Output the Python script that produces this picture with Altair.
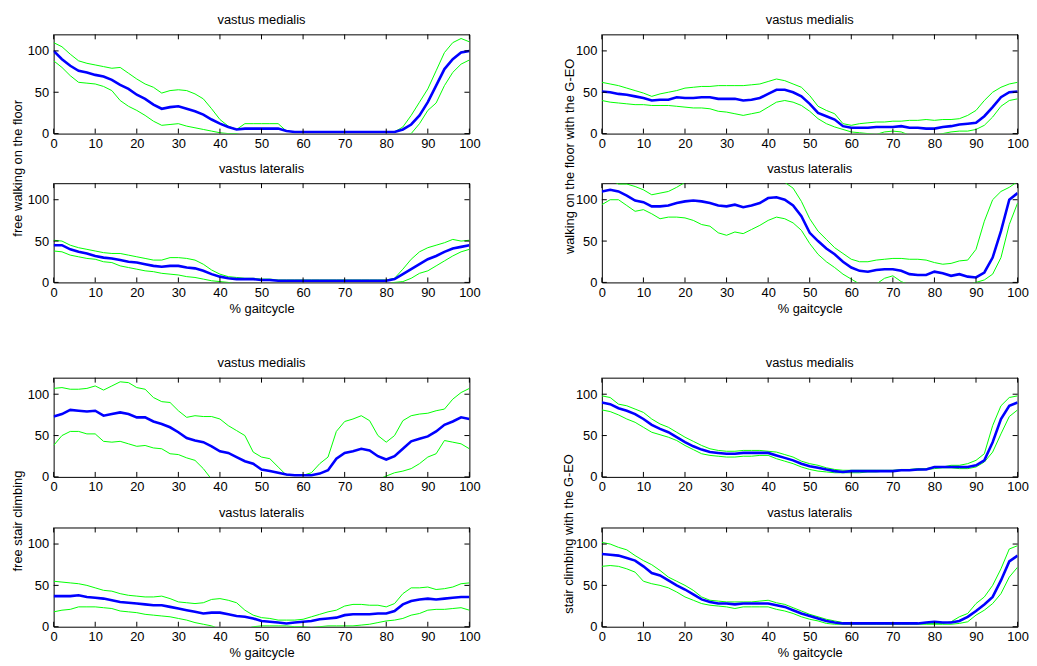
import altair as alt
import pandas as pd

# ---------------- data ----------------
X = list(range(0, 101, 2))
XTICKS = list(range(0, 101, 10))
YTICKS = [0, 50, 100]

TITLE_VM = "vastus medialis"
TITLE_VL = "vastus lateralis"
XTITLE = "% gaitcycle"
YT_FW = "free walking on the floor"
YT_GW = "walking on the floor with the G-EO"
YT_FS = "free stair climbing"
YT_GS = "stair climbing with the G-EO"

# free walking, vastus medialis
FW_VM_MEAN = [100, 90, 82, 76, 74, 71, 69, 65, 59, 54,
              47, 42, 35, 30, 32, 33, 30, 27, 23, 17,
              12, 8, 5, 6, 6, 6, 6, 6, 3, 2,
              2, 2, 2, 2, 2, 2, 2, 2, 2, 2,
              2, 2, 5, 11, 22, 38, 58, 78, 90, 98,
              100]
FW_VM_UP = [110, 105, 96, 88, 85, 83, 81, 79, 80, 73,
            66, 60, 56, 49, 52, 53, 52, 48, 42, 30,
            17, 9, 5, 12, 12, 12, 12, 12, 3, 2,
            2, 2, 2, 2, 2, 2, 2, 2, 2, 2,
            2, 2, 8, 22, 38, 54, 76, 98, 110, 115,
            111]
FW_VM_LO = [88, 80, 70, 62, 61, 60, 57, 52, 40, 33,
            28, 22, 15, 10, 11, 12, 9, 7, 5, 3,
            1, 0, 0, -3, -3, -3, -3, -3, -3, -3,
            -3, -3, -3, -3, -3, -3, -3, -3, -3, -3,
            -3, -3, -3, 0, 12, 28, 37, 58, 74, 84,
            89]

# free walking, vastus lateralis
FW_VL_MEAN = [45, 45, 40, 37, 35, 32, 30, 29, 27, 25,
              24, 22, 20, 19, 20, 20, 18, 17, 14, 10,
              7, 5, 4, 4, 4, 3, 3, 2, 2, 2,
              2, 2, 2, 2, 2, 2, 2, 2, 2, 2,
              2, 4, 10, 16, 22, 28, 32, 37, 41, 43,
              45]
FW_VL_UP = [51, 50, 45, 42, 40, 38, 36, 35, 35, 33,
            31, 29, 27, 27, 30, 30, 29, 27, 22, 15,
            10, 7, 6, 5, 5, 4, 4, 3, 3, 3,
            3, 3, 3, 3, 3, 3, 3, 3, 3, 3,
            3, 5, 16, 28, 37, 42, 45, 48, 52, 50,
            51]
FW_VL_LO = [38, 37, 33, 31, 29, 28, 25, 24, 20, 18,
            16, 14, 13, 11, 10, 9, 7, 6, 4, 2,
            1, 0, -2, -2, -2, -2, -2, -2, -2, -2,
            -2, -2, -2, -2, -2, -2, -2, -2, -2, -2,
            -2, 0, 1, 5, 11, 14, 20, 26, 32, 37,
            40]

# walking with the G-EO, vastus medialis
GW_VM_MEAN = [51, 50, 48, 47, 45, 43, 40, 41, 41, 44,
              43, 43, 44, 44, 42, 42, 42, 40, 41, 43,
              48, 53, 53, 50, 45, 36, 25, 21, 17, 9,
              7, 7, 7, 8, 8, 8, 9, 7, 7, 6,
              6, 8, 9, 11, 12, 13, 21, 32, 44, 50,
              51]
GW_VM_UP = [62, 60, 58, 55, 52, 49, 45, 48, 50, 52,
            55, 56, 57, 57, 58, 58, 58, 58, 59, 60,
            63, 66, 64, 60, 56, 46, 33, 28, 24, 12,
            10, 12, 13, 14, 14, 15, 15, 16, 16, 17,
            16, 17, 17, 18, 22, 28, 40, 50, 56, 60,
            62]
GW_VM_LO = [40, 38, 37, 36, 35, 35, 34, 34, 34, 33,
            32, 31, 31, 30, 27, 26, 24, 22, 24, 26,
            32, 38, 40, 38, 34, 27, 18, 12, 8, 5,
            2, 1, 0, -1, 2, 3, 2, -2, -3, -3,
            -2, 0, 2, 3, 3, 5, 10, 20, 33, 40,
            42]

# walking with the G-EO, vastus lateralis
GW_VL_MEAN = [110, 112, 110, 105, 99, 97, 92, 92, 93, 96,
              98, 99, 98, 96, 93, 92, 94, 91, 93, 96,
              102, 103, 100, 93, 80, 60, 50, 41, 34, 25,
              18, 14, 13, 15, 16, 16, 14, 10, 9, 9,
              13, 11, 8, 10, 7, 6, 12, 30, 62, 100,
              108]
GW_VL_UP = [128, 124, 119, 119, 116, 112, 106, 108, 110, 115,
            121, 126, 128, 130, 130, 130, 130, 130, 130, 130,
            130, 128, 121, 114, 98, 77, 62, 52, 42, 35,
            28, 25, 25, 27, 28, 29, 29, 28, 28, 27,
            24, 22, 23, 26, 27, 40, 74, 100, 110, 115,
            122]
GW_VL_LO = [94, 100, 100, 93, 86, 88, 83, 77, 79, 79,
            78, 75, 70, 68, 60, 57, 61, 59, 64, 69,
            75, 79, 77, 72, 63, 47, 34, 25, 18, 10,
            4, -2, -4, -2, 5, 8, 1, -3, -4, -3,
            -2, -4, -4, -4, -3, 0, 3, 10, 30, 70,
            96]

# free stair climbing, vastus medialis
FS_VM_MEAN = [73, 76, 81, 80, 79, 80, 74, 76, 78, 76,
              72, 72, 67, 64, 60, 54, 47, 44, 42, 37,
              31, 29, 24, 19, 16, 9, 7, 5, 3, 2,
              2, 2, 4, 8, 22, 29, 31, 34, 32, 25,
              21, 25, 34, 43, 46, 49, 55, 63, 67, 72,
              70]
FS_VM_UP = [107, 108, 106, 106, 107, 110, 105, 110, 115, 114,
            108, 106, 96, 91, 90, 80, 72, 74, 73, 73,
            70, 62, 56, 50, 30, 24, 22, 12, 2, 2,
            2, 5, 16, 24, 55, 67, 70, 74, 68, 50,
            42, 50, 68, 74, 76, 77, 80, 82, 94, 102,
            107]
FS_VM_LO = [38, 50, 55, 55, 52, 52, 43, 42, 43, 40,
            37, 38, 35, 34, 28, 27, 23, 20, 10, -3,
            -3, -3, -3, -3, -3, -3, -3, -3, -3, -3,
            -3, -3, -3, -3, -3, -3, -3, -3, -3, -3,
            1, 5, 7, 10, 16, 24, 28, 44, 42, 40,
            34]

# free stair climbing, vastus lateralis
FS_VL_MEAN = [37, 37, 37, 38, 36, 35, 34, 32, 30, 29,
              28, 27, 26, 26, 24, 22, 20, 18, 16, 17,
              17, 15, 13, 12, 10, 7, 6, 5, 4, 5,
              6, 7, 9, 10, 11, 14, 15, 15, 15, 16,
              16, 19, 27, 31, 33, 34, 33, 34, 35, 36,
              36]
FS_VL_UP = [55, 54, 53, 52, 50, 47, 44, 43, 40, 38,
            37, 36, 36, 37, 34, 30, 29, 28, 29, 33,
            34, 32, 29, 20, 14, 11, 10, 8, 8, 8,
            9, 12, 15, 18, 20, 25, 27, 27, 26, 26,
            24, 28, 40, 47, 47, 48, 45, 46, 48, 52,
            53]
FS_VL_LO = [18, 20, 21, 24, 24, 24, 23, 22, 19, 18,
            17, 15, 14, 13, 12, 10, 8, 5, 3, 1,
            -3, -3, -3, -3, 0, 1, 1, 1, 1, 0,
            0, -1, 0, 1, 1, 1, 1, 2, 3, 5,
            7, 8, 10, 14, 16, 20, 21, 21, 22, 23,
            20]

# stair climbing with the G-EO, vastus medialis
GS_VM_MEAN = [90, 88, 83, 80, 76, 70, 63, 58, 54, 48,
              42, 37, 33, 30, 29, 28, 28, 29, 29, 29,
              29, 26, 23, 20, 16, 13, 11, 9, 7, 6,
              7, 7, 7, 7, 7, 7, 8, 8, 9, 9,
              12, 12, 12, 12, 12, 14, 20, 42, 70, 86,
              90]
GS_VM_UP = [98, 96, 88, 86, 82, 78, 70, 64, 60, 54,
            48, 43, 38, 34, 32, 31, 31, 32, 32, 32,
            31, 30, 27, 24, 19, 16, 14, 11, 9, 8,
            8, 8, 8, 8, 8, 8, 9, 9, 10, 10,
            12, 12, 14, 14, 16, 20, 28, 62, 86, 96,
            98]
GS_VM_LO = [81, 79, 75, 70, 66, 60, 54, 51, 48, 44,
            38, 33, 28, 26, 25, 24, 24, 25, 25, 26,
            26, 22, 19, 16, 12, 9, 7, 6, 5, 5,
            5, 5, 6, 6, 7, 7, 8, 8, 8, 9,
            10, 11, 11, 10, 10, 12, 18, 30, 52, 73,
            81]

# stair climbing with the G-EO, vastus lateralis
GS_VL_MEAN = [88, 87, 86, 83, 80, 73, 65, 62, 56, 50,
              45, 39, 33, 30, 28, 28, 27, 28, 28, 28,
              28, 26, 24, 20, 16, 13, 10, 7, 5, 4,
              4, 4, 4, 4, 4, 4, 4, 4, 4, 5,
              6, 5, 5, 7, 12, 19, 27, 36, 56, 79,
              86]
GS_VL_UP = [102, 100, 96, 93, 86, 80, 75, 68, 60, 55,
            50, 44, 36, 32, 31, 30, 30, 30, 30, 31,
            32, 29, 27, 23, 19, 15, 12, 9, 7, 5,
            4, 4, 4, 4, 4, 4, 4, 4, 4, 4,
            4, 4, 6, 12, 16, 28, 36, 50, 70, 94,
            98]
GS_VL_LO = [73, 74, 73, 70, 66, 55, 52, 50, 47, 42,
            36, 32, 28, 26, 25, 24, 22, 24, 24, 24,
            24, 21, 19, 16, 12, 9, 7, 4, 3, 3,
            3, 3, 3, 3, 3, 3, 3, 3, 3, 3,
            3, 3, 3, 4, 6, 14, 20, 28, 40, 60,
            72]

# ---------------- styling ----------------
FONT = "Liberation Sans"
W, H = 419, 100
TL = 5  # inward tick length (px)
BLUE = "#0000ff"
GREEN = "#00ff00"

xscale = alt.Scale(domain=[0, 100], nice=False, zero=False)
yscale = alt.Scale(domain=[0, 120], nice=False, zero=False)


def panel(mean, up, lo, title, xt_y, ytitle, ytx, yty):
    n = len(X)
    band = pd.DataFrame({"x": X + X, "y": up + lo, "s": ["up"] * n + ["lo"] * n})
    mdf = pd.DataFrame({"x": X, "y": mean})

    xax = dict(values=XTICKS, ticks=False, domain=False, grid=False,
               labelPadding=4, labelFlush=False)
    if xt_y:
        xax.update(title=XTITLE, titleY=xt_y, titleBaseline="alphabetic")
    else:
        xax.update(title="")
    yax = dict(values=YTICKS, ticks=False, domain=False, grid=False,
               labelPadding=5, labelFlush=False)
    if ytitle:
        yax.update(title=ytitle, titleX=ytx, titleY=yty, titleAngle=270,
                   titleAlign="center", titleBaseline="alphabetic")
    else:
        yax.update(title="")

    def xe(field="x"):
        return alt.X(f"{field}:Q", scale=xscale, axis=alt.Axis(**xax))

    def ye(field="y"):
        return alt.Y(f"{field}:Q", scale=yscale, axis=alt.Axis(**yax))

    green = alt.Chart(band).mark_line(color=GREEN, strokeWidth=1, clip=True).encode(
        x=xe(), y=ye(), detail="s:N")
    blue = alt.Chart(mdf).mark_line(color=BLUE, strokeWidth=2.6, clip=True).encode(
        x=xe(), y=ye())

    tx = pd.DataFrame({"x": XTICKS})
    ty = pd.DataFrame({"y": YTICKS})
    t_bot = alt.Chart(tx).mark_rule(color="black", strokeWidth=1).encode(
        x=xe(), y=alt.value(H), y2=alt.value(H - TL))
    t_top = alt.Chart(tx).mark_rule(color="black", strokeWidth=1).encode(
        x=xe(), y=alt.value(0), y2=alt.value(TL))
    t_lft = alt.Chart(ty).mark_rule(color="black", strokeWidth=1).encode(
        y=ye(), x=alt.value(0), x2=alt.value(TL))
    t_rgt = alt.Chart(ty).mark_rule(color="black", strokeWidth=1).encode(
        y=ye(), x=alt.value(W), x2=alt.value(W - TL))

    return alt.layer(green, blue, t_bot, t_top, t_lft, t_rgt).properties(
        width=W, height=H,
        view=alt.ViewBackground(stroke="black", strokeWidth=1),
        title=alt.TitleParams(text=title, font=FONT, fontSize=13,
                              fontWeight="normal", color="black",
                              baseline="alphabetic", frame="group",
                              offset=-3))


def spacer(h):
    return alt.Chart(pd.DataFrame({"v": [0]})).mark_point(opacity=0).encode(
        x=alt.value(0), y=alt.value(0)
    ).properties(width=W, height=h,
                 view=alt.ViewBackground(stroke="transparent"))


p1 = panel(FW_VM_MEAN, FW_VM_UP, FW_VM_LO, TITLE_VM, 0, YT_FW, -32, 134.5)
p2 = panel(FW_VL_MEAN, FW_VL_UP, FW_VL_LO, TITLE_VL, 30, None, 0, 0)
p3 = panel(GW_VM_MEAN, GW_VM_UP, GW_VM_LO, TITLE_VM, 0, YT_GW, -28.5, 122.5)
p4 = panel(GW_VL_MEAN, GW_VL_UP, GW_VL_LO, TITLE_VL, 30, None, 0, 0)
p5 = panel(FS_VM_MEAN, FS_VM_UP, FS_VM_LO, TITLE_VM, 0, YT_FS, -32, 144)
p6 = panel(FS_VL_MEAN, FS_VL_UP, FS_VL_LO, TITLE_VL, 30, None, 0, 0)
p7 = panel(GS_VM_MEAN, GS_VM_UP, GS_VM_LO, TITLE_VM, 0, YT_GS, -29.5, 157)
p8 = panel(GS_VL_MEAN, GS_VL_UP, GS_VL_LO, TITLE_VL, 30, None, 0, 0)

cells = [p1, p3, spacer(50), spacer(50),
         p2, p4, spacer(96), spacer(96),
         p5, p7, spacer(51), spacer(51),
         p6, p8]

chart = alt.concat(
    *cells, columns=2, spacing={"row": 0, "column": 133.5}, bounds="flush"
).properties(
    padding={"left": 3, "top": 3, "right": 0, "bottom": 0},
    background="white",
).configure_axis(
    labelFont=FONT, titleFont=FONT, labelColor="black", titleColor="black",
    titleFontWeight="normal", labelFontSize=13, titleFontSize=13,
)

chart.save("out.html", embed_options={"renderer": "svg", "actions": False})
